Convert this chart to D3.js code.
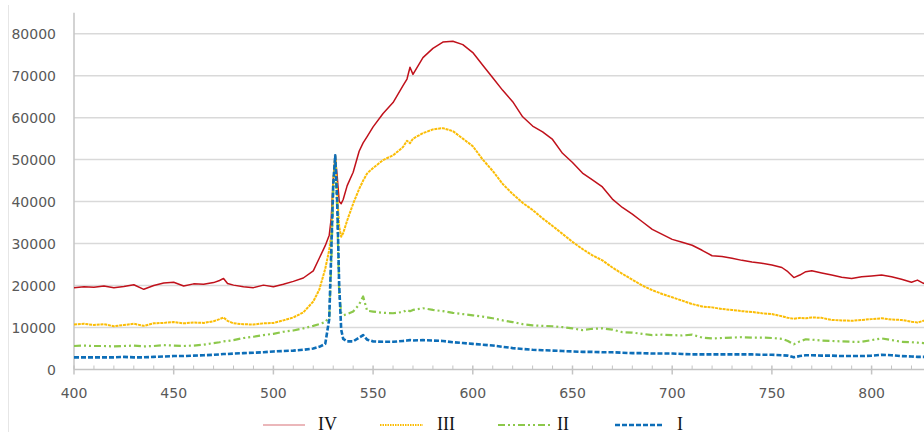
<!DOCTYPE html>
<html>
<head>
<meta charset="utf-8">
<script src="https://cdn.jsdelivr.net/npm/d3@7"></script>
<style>
  html, body { margin: 0; padding: 0; background: #fff; }
  svg { display: block; }
</style>
</head>
<body>
<svg id="chart" width="924" height="432"></svg>
<script>
// ---------- data ----------
const wavelengths = [400,405,410,415,420,425,430,435,440,445,
  450,455,460,465,470,473,475,477,480,485,
  490,495,500,505,510,515,520,523,526,528,
  529,530,531,532,533,534,535,537,540,543,
  545,547,550,555,560,565,567,568.5,570,575,
  580,585,590,595,600,605,610,615,620,625,
  630,635,640,645,650,655,660,665,670,675,
  680,685,690,695,700,705,710,715,720,725,
  730,735,740,745,750,755,758,761,764,767,
  770,775,780,785,790,795,800,805,810,815,
  820,823,826,830];

const seriesIV = [19500,19700,19600,19900,19500,19800,20200,19100,20000,20600,
  20800,19900,20400,20300,20700,21200,21700,20500,20100,19700,
  19500,20100,19700,20300,21000,21800,23500,26500,29500,32000,
  36000,45000,51000,46000,40000,39500,40500,43800,47000,52000,
  54000,55500,57800,61000,63600,67600,69200,72000,70300,74300,
  76500,78000,78200,77400,75500,72500,69500,66500,63800,60200,
  58000,56600,54800,51500,49300,46800,45200,43500,40600,38600,
  37000,35200,33400,32200,31000,30300,29600,28400,27100,26900,
  26500,26000,25600,25300,24900,24300,23300,21900,22500,23300,
  23500,23000,22500,22000,21700,22100,22300,22500,22100,21500,
  20800,21300,20500,21500];

const seriesIII = [10700,10900,10600,10800,10300,10600,10900,10400,11000,11100,
  11300,11000,11200,11100,11500,12000,12400,11600,11000,10800,
  10700,11000,11100,11700,12400,13600,16200,19000,24000,28500,
  32000,45000,51000,42000,34000,31600,32500,35500,39500,43000,
  45000,46700,48000,49900,51000,53000,54500,53900,55000,56300,
  57200,57500,56800,55000,53200,50000,47300,44200,41800,39700,
  38000,36000,34200,32300,30400,28700,27200,26000,24300,22800,
  21400,20000,18900,18000,17200,16400,15600,15000,14800,14400,
  14200,13900,13700,13400,13200,12700,12300,12100,12300,12200,
  12400,12300,11800,11700,11600,11800,12000,12200,11900,11800,
  11400,11200,11600,11400];

const seriesII = [5600,5700,5600,5600,5500,5600,5700,5500,5600,5800,
  5700,5600,5700,5900,6300,6500,6700,6800,7000,7500,
  7800,8200,8500,9000,9300,9800,10400,10800,11300,12500,
  25000,42000,50000,38000,18000,13500,12900,13200,13800,15500,
  17400,14000,13800,13500,13400,13700,14200,13900,14200,14600,
  14200,13900,13500,13200,12900,12600,12200,11700,11300,10800,
  10500,10400,10300,10100,9800,9400,9700,9800,9500,8900,
  8800,8500,8200,8300,8200,8100,8300,7600,7400,7500,
  7600,7700,7600,7600,7500,7300,6800,6000,6700,7200,
  7100,6900,6800,6700,6600,6600,7000,7400,7000,6600,
  6500,6400,6300,6300];

const seriesI = [2900,2900,2900,2900,2900,3000,2900,2900,3000,3100,
  3200,3200,3300,3400,3500,3600,3700,3700,3800,3900,
  4000,4100,4300,4400,4500,4700,5000,5400,6100,12000,
  28000,44000,51000,40000,20000,9500,7300,6700,6700,7600,
  8200,7100,6700,6600,6600,6800,6900,7000,6900,7000,
  6900,6800,6500,6300,6100,5900,5700,5400,5100,4900,
  4700,4600,4500,4400,4300,4200,4200,4100,4100,4000,
  3900,3900,3800,3800,3800,3700,3600,3600,3600,3600,
  3600,3600,3600,3500,3500,3400,3300,2900,3200,3400,
  3400,3300,3300,3200,3200,3200,3300,3500,3400,3200,
  3100,3000,3000,3000];

const seriesNames = ["IV", "III", "II", "I"];
const yTickValues = [0,10000,20000,30000,40000,50000,60000,70000,80000];
const xTickValues = [400,450,500,550,600,650,700,750,800,850];
const xLabelValues = [400,450,500,550,600,650,700,750,800];
const xMinorTicks = d3.range(400, 851, 10);

// ---------- styles ----------
const styles = {
  "IV":  {color: "#c0111b", width: 1.5, dash: null, data: seriesIV},
  "III": {color: "#fbbd06", width: 2.0, dash: "3,0.8", data: seriesIII},
  "II":  {color: "#8cc84b", width: 2.2, dash: "7,3,2,3,2,3", data: seriesII},
  "I":   {color: "#0d6eb8", width: 2.6, dash: "5,2", data: seriesI}
};

const svg = d3.select("#chart");
const x = d3.scaleLinear().domain([400, 850]).range([74, 74 + 450 * 1.994]);
const y = d3.scaleLinear().domain([0, 85000]).range([369.5, 12.7]);

// outer chart border (left edge)
svg.append("line").attr("x1", 8.5).attr("x2", 8.5).attr("y1", 5).attr("y2", 432)
  .attr("stroke", "#e6e6e6").attr("stroke-width", 1);

// gridlines
svg.append("g").selectAll("line").data(yTickValues.filter(d => d > 0)).join("line")
  .attr("x1", 74).attr("x2", 924)
  .attr("y1", d => y(d)).attr("y2", d => y(d))
  .attr("stroke", "#d9d9d9").attr("stroke-width", 1.5);

// y axis line
svg.append("line").attr("x1", 74).attr("x2", 74).attr("y1", y(85000)).attr("y2", y(0))
  .attr("stroke", "#c4c4c4").attr("stroke-width", 1.5);

// y labels
svg.append("g").selectAll("text").data(yTickValues).join("text")
  .attr("x", 56).attr("y", d => y(d)).attr("dy", "0.36em")
  .attr("text-anchor", "end")
  .attr("font-family", "DejaVu Sans").attr("font-size", 14)
  .attr("fill", "#595959")
  .text(d => d);

// x axis line
svg.append("line").attr("x1", 74).attr("x2", 924).attr("y1", y(0)).attr("y2", y(0))
  .attr("stroke", "#c4c4c4").attr("stroke-width", 1.5);

// minor ticks
svg.append("g").selectAll("line").data(xMinorTicks.filter(d => d % 50 !== 0)).join("line")
  .attr("x1", d => x(d)).attr("x2", d => x(d))
  .attr("y1", y(0) - 4).attr("y2", y(0))
  .attr("stroke", "#c4c4c4").attr("stroke-width", 1);

// major ticks
svg.append("g").selectAll("line").data(xTickValues).join("line")
  .attr("x1", d => x(d)).attr("x2", d => x(d))
  .attr("y1", y(0) - 4).attr("y2", y(0) + 5)
  .attr("stroke", "#c4c4c4").attr("stroke-width", 1.5);

// x labels
svg.append("g").selectAll("text").data(xLabelValues).join("text")
  .attr("x", d => x(d)).attr("y", 397.5)
  .attr("text-anchor", "middle")
  .attr("font-family", "DejaVu Sans").attr("font-size", 14)
  .attr("fill", "#595959")
  .text(d => d);

// series lines
const line = d3.line()
  .x((d, i) => x(wavelengths[i]))
  .y(d => y(d));

const lines = svg.append("g");
seriesNames.forEach(name => {
  const s = styles[name];
  lines.append("path")
    .attr("d", line(s.data))
    .attr("fill", "none")
    .attr("stroke", s.color)
    .attr("stroke-width", s.width)
    .attr("stroke-linejoin", "round")
    .attr("stroke-dasharray", s.dash);
});

// legend
const legendItems = [
  {name: "IV",  x1: 263, x2: 305, tx: 318},
  {name: "III", x1: 380, x2: 423, tx: 437},
  {name: "II",  x1: 498, x2: 550, tx: 557},
  {name: "I",   x1: 615, x2: 663, tx: 677}
];
const legend = svg.append("g");
legendItems.forEach(it => {
  const s = styles[it.name];
  legend.append("line")
    .attr("x1", it.x1).attr("x2", it.x2).attr("y1", 425).attr("y2", 425)
    .attr("stroke", s.color)
    .attr("stroke-width", it.name === "IV" ? 1.2 : s.width)
    .attr("stroke-opacity", it.name === "IV" ? 0.6 : 1)
    .attr("stroke-dasharray", it.name === "III" ? "1.5,1" : s.dash);
  legend.append("text")
    .attr("x", it.tx).attr("y", 429.5)
    .attr("font-family", "Liberation Serif").attr("font-size", 18)
    .attr("fill", "#111")
    .text(it.name);
});
</script>
</body>
</html>
